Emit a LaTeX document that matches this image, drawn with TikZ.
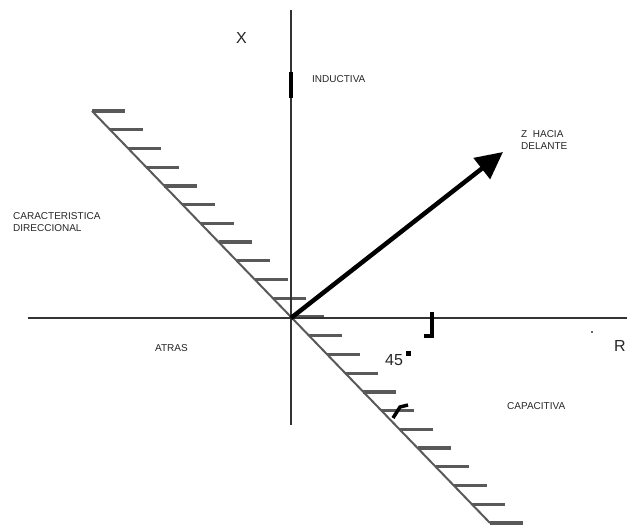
\documentclass[tikz,border=0pt]{standalone}
\usepackage{fontspec}
\setmainfont{Liberation Sans}
\usepackage{tikz}
\usetikzlibrary{arrows.meta,calc}

\begin{document}
\begin{tikzpicture}[
    x=1pt, y=-1pt,
    axis/.style={line width=2.8pt, black!80},
    diag/.style={line width=2pt, black!65},
    hatch/.style={line width=3.2pt, black!65},
    vec/.style={-{Triangle[length=27pt,width=26pt]}, line width=4.5pt, black},
    anglemark/.style={line width=3.5pt, black},
    lbl/.style={anchor=base west, inner sep=0pt, font=\fontsize{10}{12}\selectfont, text=black!85, align=left},
    big/.style={anchor=base west, inner sep=0pt, font=\fontsize{16}{19}\selectfont, text=black!85},
]
\useasboundingbox (0,0) rectangle (627,525);
% Axes
\coordinate (o) at (291,318);
\coordinate (xtop) at (291,10);
\coordinate (xbot) at (291,425);
\coordinate (rleft) at (28,318);
\coordinate (rright) at (627,318);
% Directional line
\coordinate (dtop) at (92,111);
\coordinate (dbot) at (490,523);
\draw[diag] (dtop) -- (dbot);
\foreach \i in {0,...,22}
  \draw[hatch] ($(dtop)!\i/22!(dbot)$) -- ++(33,0);

\draw[axis] (rleft) -- (rright);
\draw[axis] (xtop) -- (xbot);
\draw[line width=4pt, black] (291,72) -- (291,98);

% Z vector
\coordinate (ztip) at (503,152);
\draw[vec] (o) -- (ztip);

% Angle
\draw[anglemark] (432,312) -- (432,336) -- (424,336);
\draw[anglemark] (393,418) -- (400,407) -- (408,405);
\fill[black] (406,351) rectangle (411,356);
\fill[black!60] (591,331) rectangle (593,333);

% Labels
\node[big] (xlbl) at (236,43) {X};
\node[big] (rlbl) at (614,351) {R};
\node[big] (angle) at (385,365) {45};
\node[lbl] (ind) at (312,82) {INDUCTIVA};
\node[lbl] (cap) at (507,409) {CAPACITIVA};
\node[lbl] (atras) at (155,351) {ATRAS};
\node[lbl] (car) at (13,231) {CARACTERISTICA\\DIRECCIONAL};
\node[lbl] (zlbl) at (521,149) {Z \ HACIA\\DELANTE};
\end{tikzpicture}
\end{document}
